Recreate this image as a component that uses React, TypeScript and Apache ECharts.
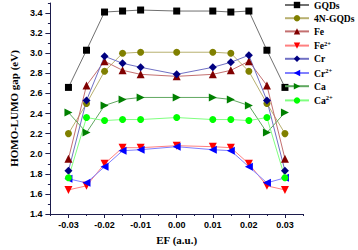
import React, { useEffect, useRef } from "react";
import * as echarts from "echarts";

const efValues = [-0.03, -0.025, -0.02, -0.015, -0.01, 0, 0.01, 0.015, 0.02, 0.025, 0.03];
const gqds = [2.66, 3.03, 3.41, 3.42, 3.43, 3.42, 3.42, 3.41, 3.42, 3.03, 2.66];
const n4gqds = [2.2, 2.5, 2.82, 3.0, 3.01, 3.01, 3.01, 3.0, 2.82, 2.5, 2.2];
const fe = [1.95, 2.68, 2.92, 2.83, 2.79, 2.77, 2.79, 2.83, 2.92, 2.68, 1.95];
const fe2 = [1.64, 1.68, 1.9, 2.06, 2.06, 2.08, 2.07, 2.06, 1.9, 1.68, 1.64];
const cr = [1.83, 2.53, 2.97, 2.9, 2.86, 2.79, 2.86, 2.91, 2.98, 2.53, 1.83];
const cr2 = [1.75, 1.71, 1.87, 2.03, 2.04, 2.07, 2.04, 2.03, 1.87, 1.71, 1.76];
const ca = [2.41, 2.21, 2.48, 2.54, 2.56, 2.56, 2.56, 2.54, 2.48, 2.21, 2.41];
const ca2 = [1.76, 2.36, 2.33, 2.34, 2.34, 2.36, 2.34, 2.34, 2.33, 2.36, 1.76];

const xMajorTicks = [-0.03, -0.02, -0.01, 0, 0.01, 0.02, 0.03];
const xMinorTicks = [-0.035, -0.025, -0.015, -0.005, 0.005, 0.015, 0.025, 0.035];
const yMajorTicks = [1.4, 1.6, 1.8, 2.0, 2.2, 2.4, 2.6, 2.8, 3.0, 3.2, 3.4];
const yMinorTicks = [1.5, 1.7, 1.9, 2.1, 2.3, 2.5, 2.7, 2.9, 3.1, 3.3, 3.5];

const seriesDefs = [
  { name: "GQDs", values: gqds, symbol: "rect", rotate: 0, size: 7, color: "#000000", line: "#707070" },
  { name: "4N-GQDs", values: n4gqds, symbol: "circle", rotate: 0, size: 7, color: "#808000", line: "#b8b070" },
  { name: "Fe", values: fe, symbol: "triangle", rotate: 0, size: 8, color: "#800000", line: "#c47070" },
  { name: "Fe2+", values: fe2, symbol: "triangle", rotate: 180, size: 8, color: "#ff0000", line: "#ff8080" },
  { name: "Cr", values: cr, symbol: "diamond", rotate: 0, size: 8, color: "#000080", line: "#7070c4" },
  { name: "Cr2+", values: cr2, symbol: "triangle", rotate: 90, size: 8, color: "#0000ff", line: "#8080ff" },
  { name: "Ca", values: ca, symbol: "triangle", rotate: -90, size: 8, color: "#008000", line: "#60a860" },
  { name: "Ca2+", values: ca2, symbol: "circle", rotate: 0, size: 7, color: "#00ff00", line: "#80ff80" },
];

const axisColor = "#1c1c4c";
const serif = "Liberation Serif, Times New Roman, serif";
const tickFont = { fontFamily: "Liberation Sans, Arial, sans-serif", fontWeight: "bold" as const, fontSize: 9, color: "#000" };
const nameFont = { fontFamily: serif, fontWeight: "bold" as const, fontSize: 11, color: "#000" };

export default function App() {
  const ref = useRef<HTMLDivElement>(null);
  useEffect(() => {
    if (!ref.current) return;
    const chart = echarts.init(ref.current, undefined, { renderer: "svg" });
    chart.setOption({
      animation: false,
      backgroundColor: "#ffffff",
      grid: { left: 34, right: 55, top: 3, bottom: 34 },
      legend: {
        orient: "vertical",
        left: 284,
        top: 0,
        padding: [0, 0, 0, 0],
        itemWidth: 24,
        itemHeight: 8,
        itemGap: 3.2,
        data: seriesDefs.map((s) => s.name),
        formatter: (name: string) => {
          const m = name.match(/^(.*?)(\d\+)$/);
          if (m) return `{n|${m[1]}}{s|${m[2]}}`;
          return `{n|${name}}`;
        },
        textStyle: {
          rich: {
            n: { fontFamily: serif, fontWeight: "bold", fontSize: 9.6, lineHeight: 12, color: "#000" },
            s: { fontFamily: serif, fontWeight: "bold", fontSize: 6.5, lineHeight: 7, verticalAlign: "top", color: "#000" },
          },
        },
      },
      xAxis: [
        {
          type: "value",
          min: -0.035,
          max: 0.035,
          name: "EF (a.u.)",
          nameLocation: "middle",
          nameGap: 20,
          nameTextStyle: nameFont,
          splitLine: { show: false },
          axisLine: { show: true, onZero: false, lineStyle: { color: axisColor, width: 1 } },
          axisTick: { show: true, length: 4, customValues: xMajorTicks, lineStyle: { color: axisColor } },
          axisLabel: {
            ...tickFont,
            margin: 6,
            customValues: xMajorTicks,
            formatter: (v: number) => v.toFixed(2),
          },
        },
        {
          type: "value",
          min: -0.035,
          max: 0.035,
          position: "bottom",
          splitLine: { show: false },
          axisLine: { show: false, onZero: false },
          axisTick: { show: true, length: 2, customValues: xMinorTicks, lineStyle: { color: axisColor } },
          axisLabel: { show: false },
        },
      ],
      yAxis: [
        {
          type: "value",
          min: 1.4,
          max: 3.5,
          name: "HOMO-LUMO gap (eV)",
          nameLocation: "middle",
          nameGap: 21,
          nameTextStyle: nameFont,
          splitLine: { show: false },
          axisLine: { show: true, onZero: false, lineStyle: { color: axisColor, width: 1 } },
          axisTick: { show: true, length: 5, customValues: yMajorTicks, lineStyle: { color: axisColor } },
          axisLabel: {
            ...tickFont,
            margin: 8,
            customValues: yMajorTicks,
            formatter: (v: number) => v.toFixed(1),
          },
        },
        {
          type: "value",
          min: 1.4,
          max: 3.5,
          position: "left",
          offset: 0,
          splitLine: { show: false },
          axisLine: { show: false, onZero: false },
          axisTick: { show: true, length: 2.5, customValues: yMinorTicks, lineStyle: { color: axisColor } },
          axisLabel: { show: false },
        },
      ],
      series: seriesDefs.map((s) => ({
        name: s.name,
        type: "line",
        xAxisIndex: 0,
        yAxisIndex: 0,
        data: efValues.map((x, i) => [x, s.values[i]]),
        symbol: s.symbol,
        symbolSize: s.size,
        symbolRotate: s.rotate,
        showAllSymbol: true,
        itemStyle: { color: s.color, borderWidth: 0 },
        lineStyle: { color: s.line, width: 1 },
        emphasis: { disabled: true },
      })),
    });
    return () => chart.dispose();
  }, []);
  return <div ref={ref} style={{ position: "fixed", left: 0, top: 0, width: 358, height: 250 }} />;
}
